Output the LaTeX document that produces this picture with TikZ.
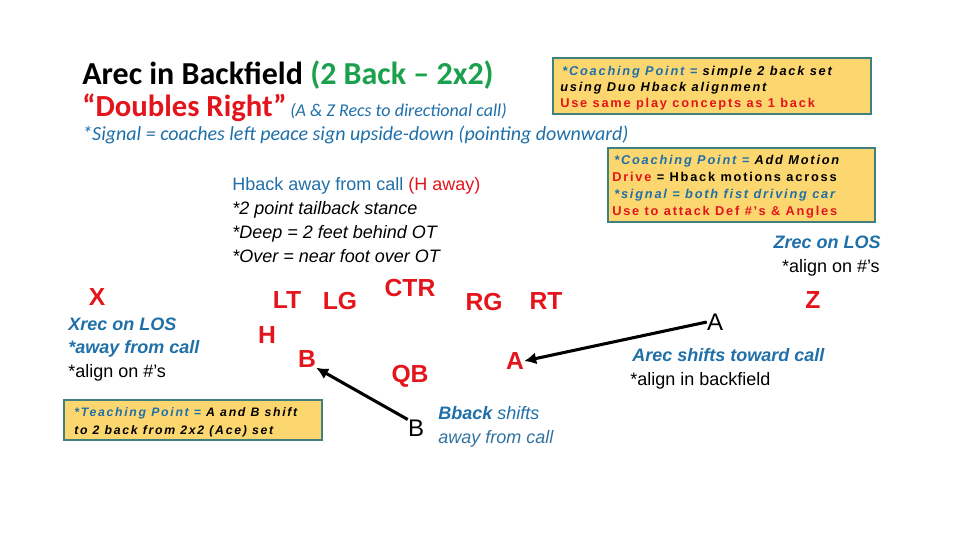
\documentclass[tikz,border=0pt]{standalone}
\usepackage{fontspec}
\setmainfont{Liberation Sans}
\newfontfamily\carlitofam{Carlito}
\newfontfamily\spacedfam[LetterSpace=14]{Liberation Sans}
\usetikzlibrary{arrows.meta}
\definecolor{tred}{HTML}{E3141B}
\definecolor{tblue}{HTML}{1F6FA8}
\definecolor{tgreen}{HTML}{1BA04E}
\definecolor{boxfill}{HTML}{FCD770}
\definecolor{boxline}{HTML}{3F7F7F}
\tikzset{
 pl/.style={text=tred,font=\fontsize{18.5}{18.5}\selectfont\bfseries,inner sep=0pt},
 pm/.style={font=\fontsize{18}{18}\selectfont,inner sep=0pt},
 cbox/.style={draw=boxline,fill=boxfill,line width=0.8pt},
 bt/.style={anchor=base west,inner sep=0pt,font=\spacedfam\fontsize{9.6}{9.6}\selectfont\bfseries\itshape},
 tx/.style={anchor=base west,inner sep=0pt,font=\fontsize{13.5}{13.5}\selectfont},
 arr/.style={line width=2.3pt,-{Latex[length=9pt,width=9pt]}},
}
\begin{document}
\begin{tikzpicture}[x=0.75pt,y=-0.75pt]
\useasboundingbox (0,0) rectangle (960,540);
\node[anchor=base west,inner sep=0pt,font=\carlitofam\bfseries\fontsize{24}{24}\selectfont] (t1) at (82,84) {Arec in Backfield \textcolor{tgreen}{(2 Back \textendash\ 2x2)}};
\node[anchor=base west,inner sep=0pt,font=\carlitofam\bfseries\fontsize{23}{23}\selectfont,text=tred] (t2) at (82,116) {“Doubles Right”};
\node[anchor=base west,inner sep=0pt,font=\carlitofam\itshape\fontsize{13.5}{13.5}\selectfont,text=tblue] (t3) at (290,116) {(A \& Z Recs to directional call)};
\node[anchor=base west,inner sep=0pt,font=\carlitofam\itshape\fontsize{15}{15}\selectfont,text=tblue] (t4) at (82,140) {*Signal = coaches left peace sign upside-down (pointing downward)};
% box 1
\draw[cbox] (553,58) rectangle (871,114);
\node[bt] (b1a) at (562,75) {\textcolor{tblue}{*Coaching Point =} simple 2 back set};
\node[bt] (b1b) at (560,91) {using Duo Hback alignment};
\node[bt,font=\spacedfam\fontsize{9.6}{9.6}\selectfont\bfseries,text=tred] (b1c) at (560,107) {Use same play concepts as 1 back};
% box 2
\draw[cbox] (608,148) rectangle (875,222);
\node[bt] (b2a) at (614,164) {\textcolor{tblue}{*Coaching Point =} Add Motion};
\node[bt,font=\spacedfam\fontsize{9.6}{9.6}\selectfont\bfseries] (b2b) at (612,181) {\textcolor{tred}{Drive} = Hback motions across};
\node[bt,text=tblue] (b2c) at (614,198) {*signal = both fist driving car};
\node[bt,font=\spacedfam\fontsize{9.6}{9.6}\selectfont\bfseries,text=tred] (b2d) at (612,215) {Use to attack Def \#’s \& Angles};
% teaching box
\draw[cbox] (64,400) rectangle (322,440);
\node[bt,font=\spacedfam\fontsize{9.2}{9.2}\selectfont\bfseries\itshape] (tb1) at (74,416) {\textcolor{tblue}{*Teaching Point =} A and B shift};
\node[bt,font=\spacedfam\fontsize{9.2}{9.2}\selectfont\bfseries\itshape] (tb2) at (74,434) {to 2 back from 2x2 (Ace) set};
% Hback text
\node[tx] (h1) at (232,190) {\textcolor{tblue}{Hback away from call} \textcolor{tred}{(H away)}};
\node[tx,font=\fontsize{13.5}{13.5}\selectfont\itshape] (h2) at (232,214) {*2 point tailback stance};
\node[tx,font=\fontsize{13.5}{13.5}\selectfont\itshape] (h3) at (232,238) {*Deep = 2 feet behind OT};
\node[tx,font=\fontsize{13.5}{13.5}\selectfont\itshape] (h4) at (232,262) {*Over = near foot over OT};
% Zrec
\node[tx,anchor=base east,font=\fontsize{13.5}{13.5}\selectfont\bfseries\itshape,text=tblue] (z1) at (881,248) {Zrec on LOS};
\node[tx,anchor=base east] (z2) at (880,272) {*align on \#’s};
% Xrec
\node[tx,font=\fontsize{13.5}{13.5}\selectfont\bfseries\itshape,text=tblue] (x1) at (68,330) {Xrec on LOS};
\node[tx,font=\fontsize{13.5}{13.5}\selectfont\bfseries\itshape,text=tblue] (x2) at (68,353) {*away from call};
\node[tx] (x3) at (68,377) {*align on \#’s};
% Bback / Arec
\node[tx,font=\fontsize{13.5}{13.5}\selectfont\bfseries\itshape,text=tblue] (bb1) at (438,419) {Bback \textmd{shifts}};
\node[tx,font=\fontsize{13.5}{13.5}\selectfont\itshape,text=tblue!80!gray] (bb2) at (438,443) {away from call};
\node[tx,font=\fontsize{13.5}{13.5}\selectfont\bfseries\itshape,text=tblue] (ar1) at (632,361) {Arec shifts toward call};
\node[tx] (ar2) at (630,385) {*align in backfield};
% players
\node[pl] (X) at (97,297) {X};
\node[pl] (LT) at (287,300) {LT};
\node[pl] (LG) at (340,301) {LG};
\node[pl] (CTR) at (410,288) {CTR};
\node[pl] (RG) at (484,302) {RG};
\node[pl] (RT) at (546,301) {RT};
\node[pl] (H) at (267,335) {H};
\node[pl] (B) at (307,359) {B};
\node[pl] (QB) at (410,376) {QB};
\node[pl] (A) at (515,361) {A};
\node[pl] (Z) at (813,300) {Z};
\node[pm] (Ao) at (715,322) {A};
\node[pm] (Bo) at (416,428) {B};
\draw[arr] (Bo.north west) -- (B.south east);
\draw[arr] (Ao.west) -- (A.east);
\end{tikzpicture}
\end{document}
